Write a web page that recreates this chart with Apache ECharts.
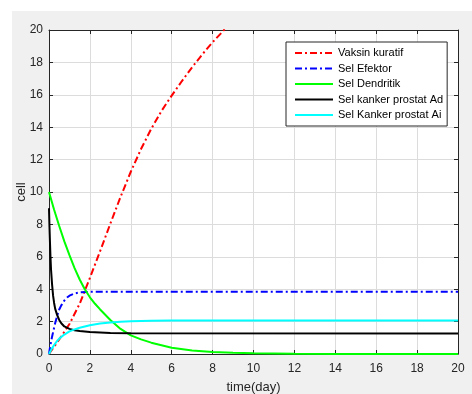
<!DOCTYPE html>
<html>
<head>
<meta charset="utf-8">
<script src="https://cdn.jsdelivr.net/npm/echarts@6/dist/echarts.min.js"></script>
<style>
  html, body { margin: 0; padding: 0; background: #fff; }
  #chart { width: 472px; height: 394px; }
</style>
</head>
<body>
<div id="chart"></div>
<script>
// values (time in days, cell count)
const xTicks = [0, 2, 4, 6, 8, 10, 12, 14, 16, 18, 20];
const yTicks = [0, 2, 4, 6, 8, 10, 12, 14, 16, 18, 20];

const tVaksin = [0, 0.5, 1, 1.5, 1.75, 2, 2.5, 3, 3.5, 4, 4.5, 5, 5.5, 6, 6.5, 7, 7.5, 8, 8.6, 9.2];
const vaksin  = [0, 0.9, 1.85, 3.1, 3.9, 4.7, 6.35, 8.05, 9.7, 11.25, 12.65, 13.9, 15.0, 15.95, 16.85, 17.7, 18.5, 19.25, 20.05, 20.8];

const tEfektor = [0, 0.05, 0.1, 0.15, 0.2, 0.3, 0.4, 0.5, 0.6, 0.75, 0.9, 1, 1.25, 1.5, 2, 3, 20];
const efektor  = [0, 0.4, 0.75, 1.07, 1.35, 1.9, 2.35, 2.75, 3.0, 3.3, 3.5, 3.6, 3.74, 3.8, 3.84, 3.85, 3.85];

const tDendritik = [0, 0.25, 0.5, 0.75, 1, 1.25, 1.5, 1.75, 2, 2.25, 2.5, 3, 3.5, 4, 4.5, 5, 6, 7, 8, 9, 10, 12, 14, 20];
const dendritik  = [10, 8.9, 7.9, 6.95, 6.1, 5.3, 4.6, 4.0, 3.5, 3.1, 2.75, 2.1, 1.55, 1.15, 0.9, 0.7, 0.38, 0.22, 0.12, 0.07, 0.04, 0.01, 0, 0];

const tAd = [0, 0.025, 0.05, 0.075, 0.1, 0.15, 0.2, 0.25, 0.3, 0.4, 0.5, 0.6, 0.75, 1, 1.25, 1.5, 2, 3, 4, 20];
const kankerAd = [9, 7.8, 6.8, 5.9, 5.2, 4.3, 3.6, 3.15, 2.8, 2.4, 2.1, 1.9, 1.7, 1.55, 1.47, 1.42, 1.36, 1.3, 1.28, 1.27];

const tAi = [0, 0.125, 0.25, 0.375, 0.5, 0.75, 1, 1.25, 1.5, 2, 2.5, 3, 3.5, 4, 5, 6, 20];
const kankerAi = [0, 0.3, 0.55, 0.77, 0.95, 1.2, 1.4, 1.52, 1.62, 1.78, 1.88, 1.95, 1.99, 2.02, 2.05, 2.07, 2.07];

const names = ['Vaksin kuratif', 'Sel Efektor', 'Sel Dendritik', 'Sel kanker prostat Ad', 'Sel Kanker prostat Ai'];

const pairs = (ts, vs) => ts.map((t, i) => [t, vs[i]]);

const chart = echarts.init(document.getElementById('chart'), null, { renderer: 'canvas' });

const axisColor = '#262626';
const font = 'Arial, "Liberation Sans", Helvetica, sans-serif';

const baseX = {
  type: 'value',
  min: xTicks[0],
  max: xTicks[xTicks.length - 1],
  interval: 2,
  axisLine: { show: true, onZero: false, lineStyle: { color: axisColor, width: 1 } },
  axisTick: { show: true, inside: true, length: 4, lineStyle: { color: axisColor } },
};
const baseY = {
  type: 'value',
  min: yTicks[0],
  max: yTicks[yTicks.length - 1],
  interval: 2,
  axisLine: { show: true, onZero: false, lineStyle: { color: axisColor, width: 1 } },
  axisTick: { show: true, inside: true, length: 4, lineStyle: { color: axisColor } },
};

const line = (name, ts, vs, color, dash) => ({
  name: name,
  type: 'line',
  data: pairs(ts, vs),
  showSymbol: false,
  symbol: 'none',
  clip: true,
  lineStyle: { color: color, width: 2, type: dash || 'solid' },
  itemStyle: { color: color },
  emphasis: { disabled: true },
});

const option = {
  animation: false,
  backgroundColor: '#fff',
  graphic: [{
    type: 'rect',
    left: 12, top: 11,
    shape: { width: 460, height: 383 },
    style: { fill: '#f0f0f0' },
    z: -10,
  }],
  grid: {
    left: 49, right: 14, top: 30, bottom: 40,
    outerBoundsMode: 'none',
    containLabel: false,
    show: true, backgroundColor: '#fff', borderWidth: 0,
  },
  legend: {
    orient: 'vertical',
    left: 286, top: 42,
    padding: [5.5, 4, 5.5, 8],
    itemWidth: 38, itemHeight: 10, itemGap: 4.5,
    backgroundColor: '#fff',
    borderColor: '#262626', borderWidth: 1,
    itemStyle: { opacity: 0 },
    textStyle: { fontFamily: font, fontSize: 11, color: '#000' },
    data: names,
  },
  xAxis: [
    Object.assign({}, baseX, {
      position: 'bottom',
      name: 'time(day)', nameLocation: 'middle', nameGap: 27, nameMoveOverlap: false,
      nameTextStyle: { fontFamily: font, fontSize: 13, color: axisColor },
      axisLabel: { margin: 9, fontFamily: font, fontSize: 12, color: axisColor,
        formatter: v => xTicks.includes(v) ? String(v) : '' },
      splitLine: { show: true, lineStyle: { color: '#dcdcdc', width: 1 } },
    }),
    Object.assign({}, baseX, {
      position: 'top',
      axisLabel: { show: false },
      splitLine: { show: false },
    }),
  ],
  yAxis: [
    Object.assign({}, baseY, {
      position: 'left',
      name: 'cell', nameLocation: 'middle', nameGap: 21, nameRotate: 90, nameMoveOverlap: false,
      nameTextStyle: { fontFamily: font, fontSize: 13, color: axisColor },
      axisLabel: { margin: 6, fontFamily: font, fontSize: 12, color: axisColor,
        formatter: v => yTicks.includes(v) ? String(v) : '' },
      splitLine: { show: true, lineStyle: { color: '#dcdcdc', width: 1 } },
    }),
    Object.assign({}, baseY, {
      position: 'right',
      axisLabel: { show: false },
      splitLine: { show: false },
    }),
  ],
  series: [
    line(names[0], tVaksin, vaksin, '#ff0000', [7, 3, 2, 3]),
    line(names[1], tEfektor, efektor, '#0000ff', [7, 3, 2, 3]),
    line(names[2], tDendritik, dendritik, '#00ff00'),
    line(names[3], tAd, kankerAd, '#000000'),
    line(names[4], tAi, kankerAi, '#00ffff'),
  ],
};

chart.setOption(option);
</script>
</body>
</html>
